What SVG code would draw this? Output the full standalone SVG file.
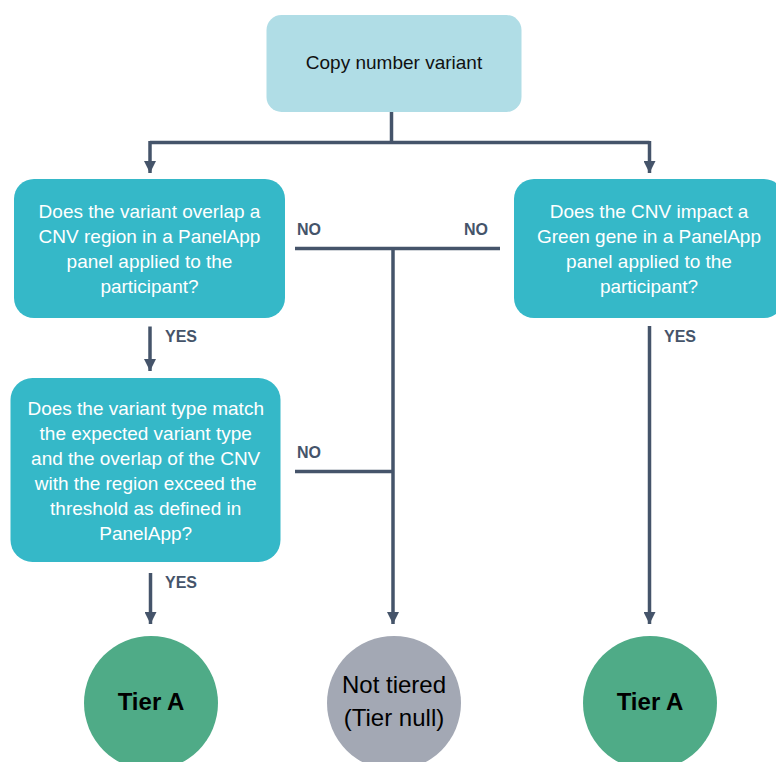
<svg xmlns="http://www.w3.org/2000/svg" width="776" height="762" viewBox="0 0 776 762">
<style>
.q{fill:#35b8c8}
.qt{font-family:"Liberation Sans",Arial,sans-serif;font-size:19px;fill:#ffffff;text-anchor:middle}
.lbl{font-family:"Liberation Sans",Arial,sans-serif;font-size:16px;font-weight:bold;fill:#45546a}
.ln{stroke:#45546a;stroke-width:3.5;fill:none}
.tier{font-family:"Liberation Sans",Arial,sans-serif;font-size:24px;font-weight:bold;fill:#000000;text-anchor:middle}
.nt{font-family:"Liberation Sans",Arial,sans-serif;font-size:24px;fill:#000000;text-anchor:middle}
</style>
<defs>
<marker id="ah" markerUnits="userSpaceOnUse" markerWidth="12" markerHeight="12" viewBox="0 0 12 12" refX="12" refY="6" orient="auto">
<path d="M0,0 L12,6 L0,12 Z" fill="#45546a"/>
</marker>
</defs>
<rect width="776" height="762" fill="#ffffff"/>
<g id="connectors">
<path class="ln" d="M391.5,112 V142.5"/>
<path class="ln" d="M150,142.5 H649.5"/>
<path class="ln" d="M150,141 V173" marker-end="url(#ah)"/>
<path class="ln" d="M649.5,141 V173" marker-end="url(#ah)"/>
<path class="ln" d="M295,248.5 H500"/>
<path class="ln" d="M393,248.5 V624" marker-end="url(#ah)"/>
<path class="ln" d="M295,471.5 H393"/>
<path class="ln" d="M150,326.5 V371" marker-end="url(#ah)"/>
<path class="ln" d="M150.5,573 V624" marker-end="url(#ah)"/>
<path class="ln" d="M649.5,326 V624" marker-end="url(#ah)"/>
<text class="lbl" x="297" y="235">NO</text>
<text class="lbl" x="464" y="235">NO</text>
<text class="lbl" x="297" y="458">NO</text>
<text class="lbl" x="165" y="342">YES</text>
<text class="lbl" x="664" y="342">YES</text>
<text class="lbl" x="165" y="588">YES</text>
</g>
<g id="start">
<rect x="266.5" y="15" width="255" height="97" rx="15" fill="#b0dde6"/>
<text x="394" y="69" font-family="Liberation Sans,Arial,sans-serif" font-size="19" fill="#111111" text-anchor="middle">Copy number variant</text>
</g>
<g id="q1">
<rect class="q" x="14" y="179" width="271" height="139" rx="20"/>
<text class="qt" x="149.5" y="218">Does the variant overlap a</text>
<text class="qt" x="149.5" y="243">CNV region in a PanelApp</text>
<text class="qt" x="149.5" y="268">panel applied to the</text>
<text class="qt" x="149.5" y="293">participant?</text>
</g>
<g id="q3">
<rect class="q" x="514" y="179" width="270" height="139" rx="20"/>
<text class="qt" x="649" y="218">Does the CNV impact a</text>
<text class="qt" x="649" y="243">Green gene in a PanelApp</text>
<text class="qt" x="649" y="268">panel applied to the</text>
<text class="qt" x="649" y="293">participant?</text>
</g>
<g id="q2">
<rect class="q" x="10.5" y="378" width="270" height="184" rx="22"/>
<text class="qt" x="145.7" y="415">Does the variant type match</text>
<text class="qt" x="145.7" y="440">the expected variant type</text>
<text class="qt" x="145.7" y="465">and the overlap of the CNV</text>
<text class="qt" x="145.7" y="490">with the region exceed the</text>
<text class="qt" x="145.7" y="515">threshold as defined in</text>
<text class="qt" x="145.7" y="540">PanelApp?</text>
</g>
<g id="tierA1">
<ellipse cx="151" cy="703" rx="67" ry="67" fill="#4fab87"/>
<text class="tier" x="151" y="710">Tier A</text>
</g>
<g id="notTiered">
<ellipse cx="394" cy="703" rx="67" ry="67" fill="#a3a8b4"/>
<text class="nt" x="394" y="693">Not tiered</text>
<text class="nt" x="394" y="726">(Tier null)</text>
</g>
<g id="tierA2">
<ellipse cx="650" cy="703" rx="67" ry="67" fill="#4fab87"/>
<text class="tier" x="650" y="710">Tier A</text>
</g>
</svg>
